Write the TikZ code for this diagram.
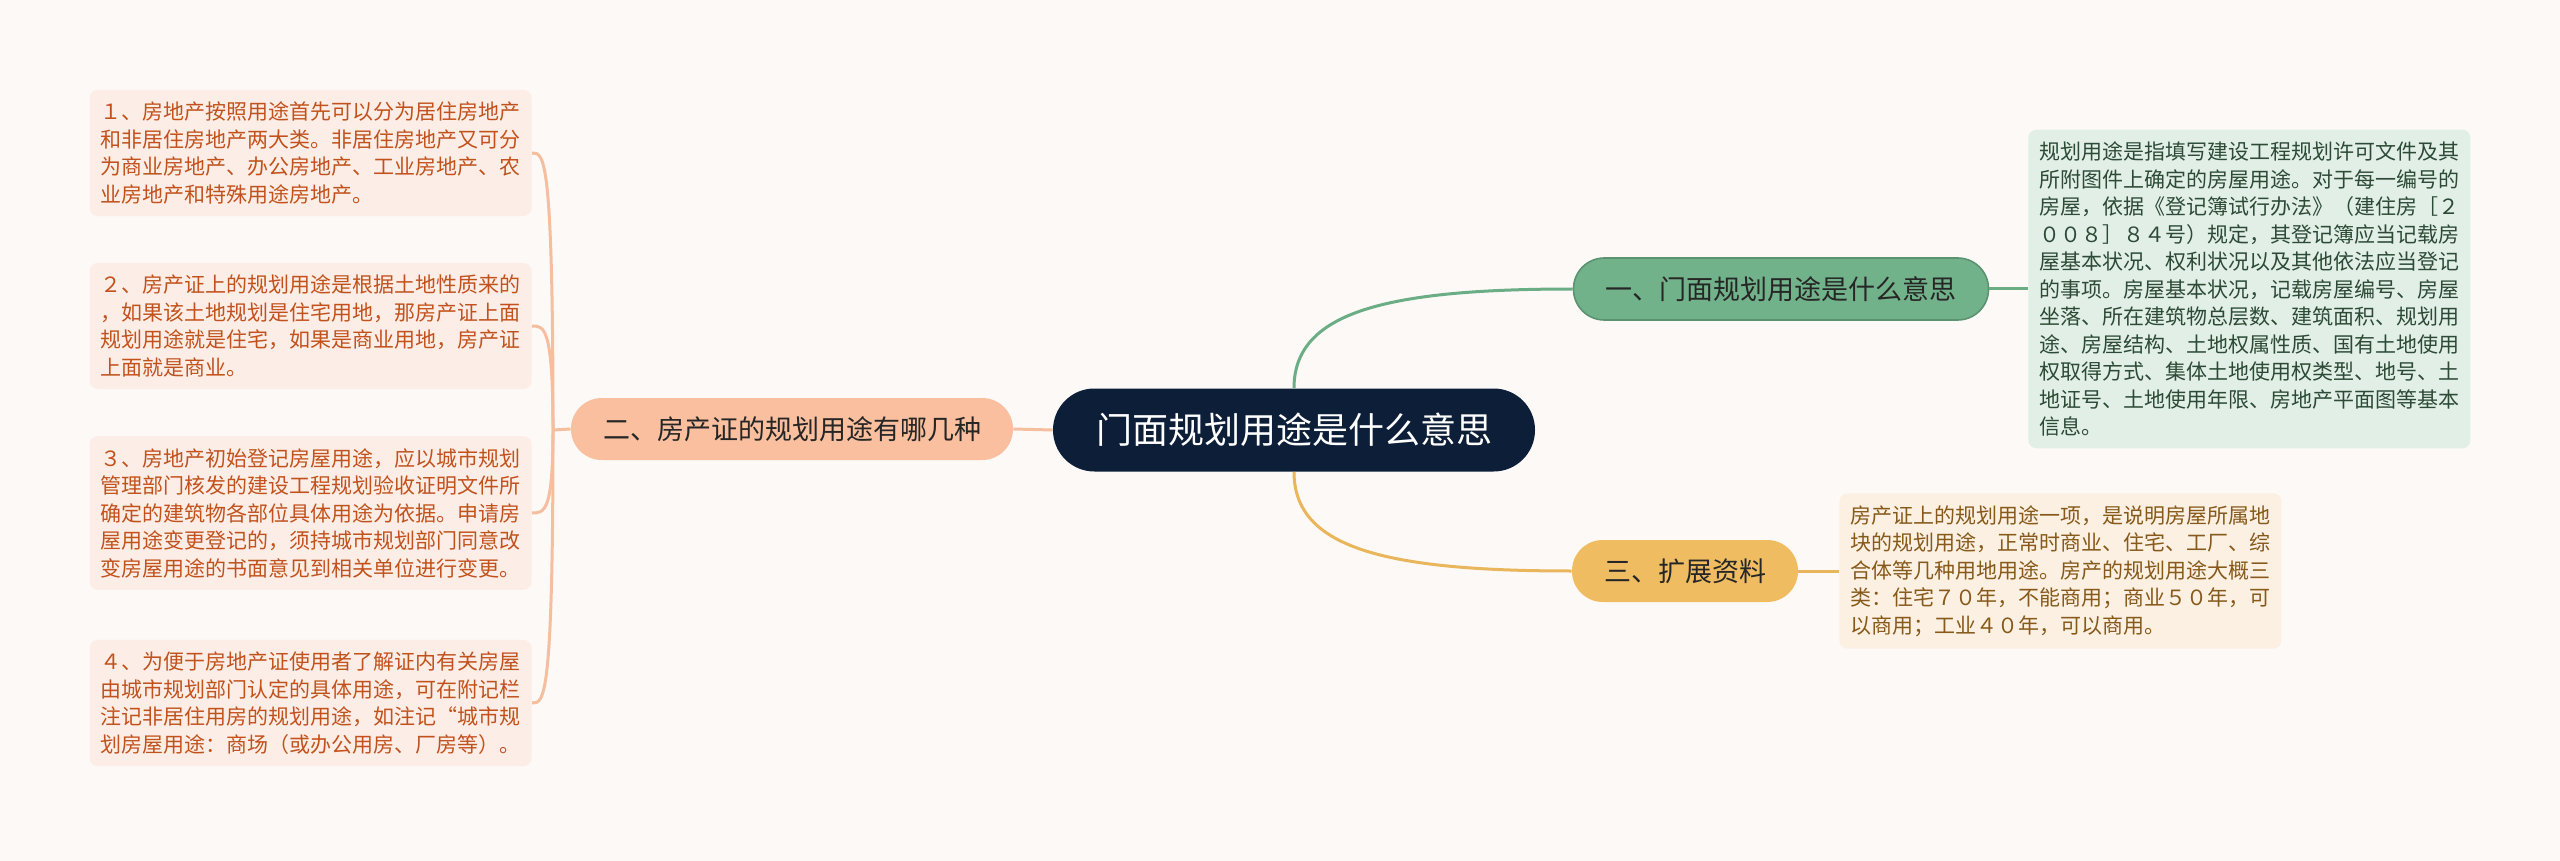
\documentclass[tikz,border=0pt]{standalone}
\usepackage{fontspec}
\setmainfont{Noto Sans CJK SC}
\usepackage{xcolor}
\usetikzlibrary{calc}

\definecolor{bgcol}{HTML}{FDF9F7}
\definecolor{rootcol}{HTML}{0C1E38}
\definecolor{greencol}{HTML}{72B28A}
\definecolor{greenline}{HTML}{6BAD84}
\definecolor{greenleaf}{HTML}{E2EFE6}
\definecolor{greentext}{HTML}{2C4A36}
\definecolor{yellowcol}{HTML}{F0BC62}
\definecolor{yellowline}{HTML}{E9B65B}
\definecolor{yellowleaf}{HTML}{FBF0E1}
\definecolor{yellowtext}{HTML}{87591A}
\definecolor{salmoncol}{HTML}{F9BF9F}
\definecolor{salmonline}{HTML}{F5BE9F}
\definecolor{salmonleaf}{HTML}{FCEEE6}
\definecolor{salmontext}{HTML}{C2521D}

\tikzset{
  rootbox/.style={fill=rootcol, text=white, rounded corners=20.7pt, minimum height=41.5pt,
                  inner xsep=21.5pt, inner ysep=0pt, font=\fontsize{18}{20}\selectfont},
  branch/.style={rounded corners=15.4pt, minimum height=31pt, inner xsep=16pt, inner ysep=0pt,
                 text=black!85, font=\fontsize{13.5}{15}\selectfont},
  leafbox/.style={rounded corners=4pt, align=left, inner xsep=5.5pt, inner ysep=6pt,
                  font=\fontsize{10.5}{13.75}\selectfont},
  link/.style={line width=1.5pt},
}

\begin{document}
\begin{tikzpicture}[x=0.5pt, y=-0.5pt]
    \fill[bgcol] (0,0) rectangle (2560,861);
    \useasboundingbox (0,0) rectangle (2560,861);

    % centre and main branches
    \node[rootbox] (root) at (1294,430) {门面规划用途是什么意思};
    \node[branch, fill=greencol, draw=greenline!85!black, line width=0.8pt] (one) at (1781,289) {一、门面规划用途是什么意思};
    \node[branch, fill=salmoncol] (two) at (792,429) {二、房产证的规划用途有哪几种};
    \node[branch, fill=yellowcol] (three) at (1685,571) {三、扩展资料};

    % right side notes
    \node[leafbox, fill=greenleaf, text=greentext, anchor=west] (onenote) at (2028,289) {规划用途是指填写建设工程规划许可文件及其\\所附图件上确定的房屋用途。对于每一编号的\\房屋，依据《登记簿试行办法》（建住房［２\\００８］８４号）规定，其登记簿应当记载房\\屋基本状况、权利状况以及其他依法应当登记\\的事项。房屋基本状况，记载房屋编号、房屋\\坐落、所在建筑物总层数、建筑面积、规划用\\途、房屋结构、土地权属性质、国有土地使用\\权取得方式、集体土地使用权类型、地号、土\\地证号、土地使用年限、房地产平面图等基本\\信息。};
    \node[leafbox, fill=yellowleaf, text=yellowtext, anchor=west] (threenote) at (1839,571) {房产证上的规划用途一项，是说明房屋所属地\\块的规划用途，正常时商业、住宅、工厂、综\\合体等几种用地用途。房产的规划用途大概三\\类：住宅７０年，不能商用；商业５０年，可\\以商用；工业４０年，可以商用。};

    % left side notes
    \node[leafbox, fill=salmonleaf, text=salmontext, anchor=east] (twoa) at (532,153) {１、房地产按照用途首先可以分为居住房地产\\和非居住房地产两大类。非居住房地产又可分\\为商业房地产、办公房地产、工业房地产、农\\业房地产和特殊用途房地产。};
    \node[leafbox, fill=salmonleaf, text=salmontext, anchor=east] (twob) at (532,326) {２、房产证上的规划用途是根据土地性质来的\\，如果该土地规划是住宅用地，那房产证上面\\规划用途就是住宅，如果是商业用地，房产证\\上面就是商业。};
    \node[leafbox, fill=salmonleaf, text=salmontext, anchor=east] (twoc) at (532,513) {３、房地产初始登记房屋用途，应以城市规划\\管理部门核发的建设工程规划验收证明文件所\\确定的建筑物各部位具体用途为依据。申请房\\屋用途变更登记的，须持城市规划部门同意改\\变房屋用途的书面意见到相关单位进行变更。};
    \node[leafbox, fill=salmonleaf, text=salmontext, anchor=east] (twod) at (532,703) {４、为便于房地产证使用者了解证内有关房屋\\由城市规划部门认定的具体用途，可在附记栏\\注记非居住用房的规划用途，如注记“城市规\\划房屋用途：商场（或办公用房、厂房等）。};

    \coordinate (fork) at (553,430);

    % connectors
    \draw[link, greenline] (root.north) .. controls +(0,-75) and +(-190,0) .. (one.west);
    \draw[link, yellowline] (root.south) .. controls +(0,75) and +(-190,0) .. (three.west);
    \draw[link, salmonline] (root.west) -- (two.east);
    \draw[link, greenline] (one.east) -- (onenote.west);
    \draw[link, yellowline] (three.east) -- (threenote.west);

    \draw[link, salmonline] (two.west) -- (fork);
    \draw[link, salmonline] (fork) .. controls (fork |- twoa.east) and +(12,0) .. (twoa.east);
    \draw[link, salmonline] (fork) .. controls (fork |- twob.east) and +(12,0) .. (twob.east);
    \draw[link, salmonline] (fork) .. controls (fork |- twoc.east) and +(12,0) .. (twoc.east);
    \draw[link, salmonline] (fork) .. controls (fork |- twod.east) and +(12,0) .. (twod.east);
\end{tikzpicture}
\end{document}
